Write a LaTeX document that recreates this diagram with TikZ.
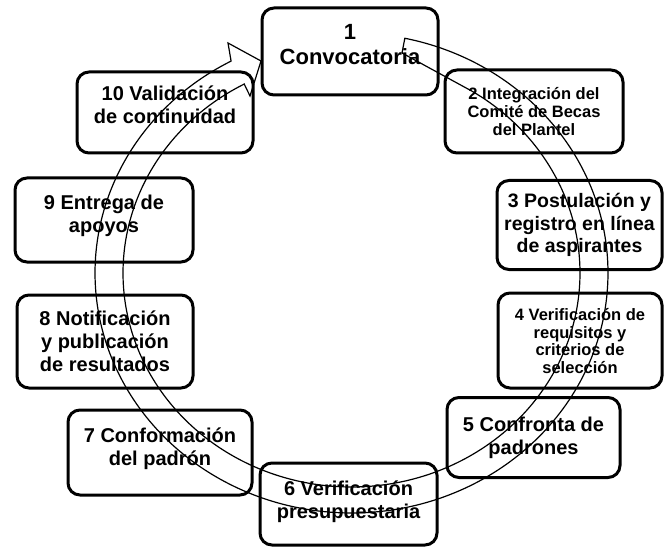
\documentclass[tikz,border=0pt]{standalone}
\usepackage{fontspec}
\setmainfont{Liberation Sans}
\newcommand{\liftxt}[2]{\raisebox{#1}[\height][\depth]{\begin{tabular}{@{}c@{}}#2\end{tabular}}}
\begin{document}
\begin{tikzpicture}[x=1pt,y=-1pt,
  procbox/.style={draw=black, line width=3pt, rounded corners=12pt, fill=white,
    align=center, inner sep=0pt, font=\bfseries\fontsize{20}{23}\selectfont},
  smalltext/.style={font=\bfseries\fontsize{16.5}{17.7}\selectfont},
  band/.style={draw=black, line width=1.2pt, line join=miter}]
\fill[white] (0,0) rectangle (664,548);
\useasboundingbox (0,0) rectangle (664,548);
% boxes
\node[procbox, minimum width=176pt, minimum height=87pt, font=\bfseries\fontsize{22}{25}\selectfont] (b1) at (350,51.5) {\liftxt{4pt}{1\\Convocatoria}};
\node[procbox, smalltext, minimum width=178pt, minimum height=83pt] (b2) at (534,111.5) {2 Integración del\\Comité de Becas\\del Plantel};
\node[procbox, minimum width=165pt, minimum height=89pt, font=\bfseries\fontsize{19.5}{22.5}\selectfont] (b3) at (579.5,225) {3 Postulación y\\registro en línea\\de aspirantes};
\node[procbox, smalltext, minimum width=164pt, minimum height=95pt] (b4) at (580,340.5) {\liftxt{-3pt}{4 Verificación de\\requisitos y\\criterios de\\selección}};
\node[procbox, minimum width=173pt, minimum height=80pt] (b5) at (533.5,437.5) {5 Confronta de\\padrones};
\node[procbox, minimum width=177pt, minimum height=82pt] (b6) at (348.5,504) {\liftxt{2pt}{6 Verificación\\presupuestaria}};
\node[procbox, minimum width=184pt, minimum height=85pt] (b7) at (160,452.5) {\liftxt{3pt}{7 Conformación\\del padrón}};
\node[procbox, minimum width=176pt, minimum height=93pt] (b8) at (105,341.5) {\liftxt{-2pt}{8 Notificación\\y publicación\\de resultados}};
\node[procbox, minimum width=178pt, minimum height=84pt] (b9) at (104,220) {\liftxt{4pt}{9 Entrega de\\apoyos}};
\node[procbox, minimum width=176pt, minimum height=81pt] (b10) at (165,112.5) {\liftxt{5pt}{10 Validación\\de continuidad}};
% circular block arrow
\draw[band] plot[domain=78:-242, samples=260] ({351.5+256.5*cos(\x)}, {273-240*sin(\x)})
  -- (228,43) -- (261,61) -- (250,96)
  -- plot[domain=-242:58, samples=240] ({351.5+228.5*cos(\x)}, {273-214*sin(\x)})
  -- (402,53) -- cycle;
\end{tikzpicture}
\end{document}
